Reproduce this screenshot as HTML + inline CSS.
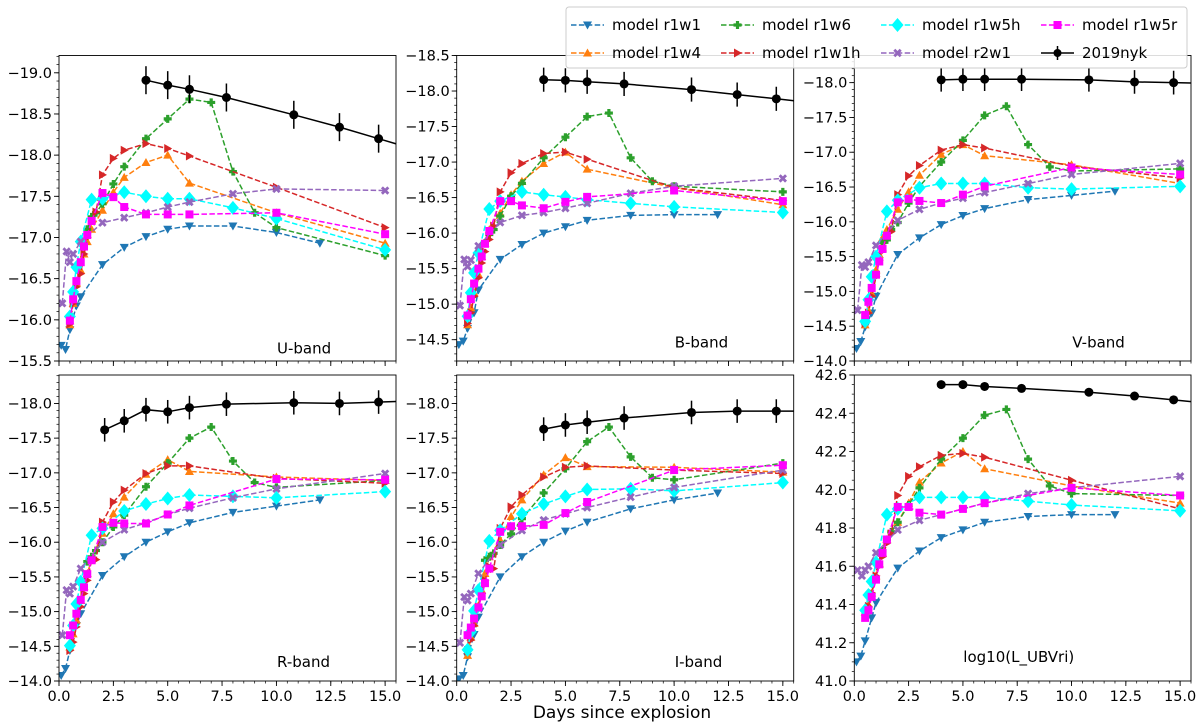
<!DOCTYPE html>
<html><head><meta charset="utf-8"><style>
html,body{margin:0;padding:0;background:#fff;}
svg{display:block;font-family:"DejaVu Sans","Liberation Sans",sans-serif;}
</style></head><body>
<svg id="fig" width="1200" height="722" viewBox="0 0 1200 722" xmlns="http://www.w3.org/2000/svg"></svg>
<script>
// ---- times (days) per model ----
const T_r1w1 = [0.1,0.3,0.5,0.8,1,2,3,4,5,6,8,10,12];
const T_r1w4 = [0.5,0.65,0.8,1,1.15,1.3,1.5,2,2.5,3,4,5,6,10,15];
const T_r1w6 = [1.3,1.5,1.7,2,2.5,3,4,5,6,7,8,9,10,15];
const T_r1w1h = [0.5,0.65,0.8,1,1.15,1.3,1.5,1.7,2,2.5,3,4,5,6,10,15];
const T_r1w5h = [0.5,0.65,0.8,1,1.5,2,3,4,5,6,8,10,15];
const T_r2w1 = [0.15,0.35,0.5,0.65,1,2,3,4,5,6,8,10,15];
const T_r1w5r = [0.5,0.65,0.8,1,1.15,1.3,1.5,2,2.5,3,4,5,6,10,15];
const T_nyk = [4,5,6,7.7,10.8,12.9,14.7];
const T_nyk_R = [2.1,3,4,5,6,7.7,10.8,12.9,14.7];

// ---- U band ----
const U_r1w1 = [-15.69,-15.64,-15.88,-16.17,-16.28,-16.67,-16.88,-17.01,-17.10,-17.14,-17.14,-17.06,-16.93];
const U_r1w4 = [-15.94,-16.2,-16.45,-16.6,-16.8,-16.95,-17.1,-17.33,-17.55,-17.73,-17.91,-18.00,-17.66,-17.30,-16.93];
const U_r1w6 = [-17.1,-17.25,-17.3,-17.41,-17.65,-17.86,-18.20,-18.44,-18.68,-18.64,-17.80,-17.30,-17.12,-16.78];
const U_r1w1h = [-15.95,-16.2,-16.4,-16.56,-16.8,-17.0,-17.2,-17.31,-17.76,-17.96,-18.06,-18.14,-18.08,-17.99,-17.61,-17.12];
const U_r1w5h = [-16.04,-16.34,-16.64,-16.95,-17.46,-17.47,-17.55,-17.50,-17.47,-17.47,-17.36,-17.23,-16.85];
const U_r2w1 = [-16.20,-16.83,-16.70,-16.80,-16.95,-17.18,-17.24,-17.30,-17.37,-17.43,-17.53,-17.59,-17.57];
const U_r1w5r = [-15.99,-16.25,-16.47,-16.70,-16.89,-17.03,-17.20,-17.54,-17.49,-17.37,-17.28,-17.28,-17.28,-17.30,-17.04];
const U_nyk = [-18.91,-18.85,-18.80,-18.70,-18.49,-18.34,-18.20];
// ---- B band ----
const B_r1w1 = [-14.43,-14.48,-14.66,-14.88,-15.20,-15.63,-15.84,-16.00,-16.09,-16.18,-16.25,-16.26,-16.26];
const B_r1w4 = [-14.71,-14.95,-15.16,-15.42,-15.67,-15.86,-16.05,-16.28,-16.54,-16.73,-16.98,-17.14,-16.90,-16.64,-16.40];
const B_r1w6 = [-15.86,-15.98,-16.05,-16.24,-16.52,-16.70,-17.06,-17.35,-17.64,-17.69,-17.06,-16.73,-16.66,-16.58];
const B_r1w1h = [-14.73,-14.88,-15.11,-15.37,-15.58,-15.74,-15.91,-16.10,-16.58,-16.85,-16.98,-17.12,-17.14,-17.04,-16.64,-16.46];
const B_r1w5h = [-14.83,-15.16,-15.44,-15.72,-16.34,-16.45,-16.58,-16.54,-16.51,-16.47,-16.42,-16.37,-16.29];
const B_r2w1 = [-14.98,-15.63,-15.53,-15.62,-15.82,-16.15,-16.25,-16.29,-16.35,-16.42,-16.56,-16.66,-16.77];
const B_r1w5r = [-14.84,-15.07,-15.29,-15.50,-15.67,-15.85,-16.03,-16.45,-16.45,-16.39,-16.35,-16.44,-16.51,-16.60,-16.45];
const B_nyk = [-18.16,-18.15,-18.13,-18.10,-18.02,-17.95,-17.89];
// ---- V band ----
const V_r1w1 = [-14.18,-14.28,-14.49,-14.69,-14.93,-15.53,-15.77,-15.96,-16.09,-16.19,-16.32,-16.38,-16.44];
const V_r1w4 = [-14.52,-14.73,-14.97,-15.31,-15.53,-15.77,-15.89,-16.18,-16.43,-16.67,-16.97,-17.11,-16.95,-16.82,-16.55];
const V_r1w6 = [-15.70,-15.74,-15.89,-15.99,-16.27,-16.51,-16.86,-17.17,-17.53,-17.66,-17.11,-16.79,-16.73,-16.76];
const V_r1w1h = [-14.54,-14.69,-14.93,-15.21,-15.45,-15.58,-15.79,-15.86,-16.39,-16.66,-16.81,-17.03,-17.11,-17.06,-16.80,-16.63];
const V_r1w5h = [-14.57,-14.88,-15.21,-15.50,-16.15,-16.31,-16.49,-16.55,-16.55,-16.55,-16.49,-16.47,-16.51];
const V_r2w1 = [-14.73,-15.38,-15.35,-15.42,-15.66,-16.02,-16.18,-16.27,-16.34,-16.42,-16.55,-16.68,-16.84];
const V_r1w5r = [-14.66,-14.85,-15.05,-15.24,-15.43,-15.61,-15.80,-16.28,-16.33,-16.30,-16.27,-16.39,-16.51,-16.78,-16.68];
const V_nyk = [-18.04,-18.05,-18.05,-18.05,-18.04,-18.01,-18.00];
// ---- R band ----
const R_r1w1 = [-14.08,-14.18,-14.44,-14.80,-14.97,-15.52,-15.79,-16.00,-16.15,-16.28,-16.43,-16.52,-16.61];
const R_r1w4 = [-14.49,-14.68,-14.88,-15.16,-15.36,-15.55,-15.75,-16.13,-16.41,-16.65,-16.98,-17.19,-17.02,-16.94,-16.89];
const R_r1w6 = [-15.72,-15.79,-15.88,-16.00,-16.22,-16.39,-16.80,-17.14,-17.50,-17.66,-17.17,-16.86,-16.79,-16.89];
const R_r1w1h = [-14.44,-14.56,-14.78,-15.07,-15.26,-15.45,-15.74,-15.75,-16.29,-16.58,-16.75,-16.99,-17.10,-17.10,-16.92,-16.85];
const R_r1w5h = [-14.51,-14.80,-15.11,-15.43,-16.10,-16.20,-16.45,-16.55,-16.63,-16.68,-16.66,-16.64,-16.73];
const R_r2w1 = [-14.66,-15.31,-15.26,-15.36,-15.62,-16.00,-16.18,-16.28,-16.40,-16.49,-16.64,-16.77,-16.99];
const R_r1w5r = [-14.66,-14.80,-14.97,-15.17,-15.35,-15.54,-15.74,-16.22,-16.28,-16.27,-16.27,-16.40,-16.53,-16.91,-16.90];
const R_nyk = [-17.62,-17.75,-17.91,-17.88,-17.94,-17.99,-18.01,-18.00,-18.02];
// ---- I band ----
const I_r1w1 = [-14.03,-14.08,-14.35,-14.67,-14.92,-15.50,-15.79,-16.00,-16.16,-16.29,-16.48,-16.61,-16.71];
const I_r1w4 = [-14.37,-14.63,-14.83,-15.09,-15.31,-15.55,-15.79,-16.03,-16.37,-16.61,-16.97,-17.22,-17.09,-17.08,-17.01];
const I_r1w6 = [-15.74,-15.79,-15.84,-15.96,-16.12,-16.34,-16.71,-17.06,-17.45,-17.66,-17.23,-16.93,-16.90,-17.14];
const I_r1w1h = [-14.44,-14.59,-14.80,-15.07,-15.26,-15.45,-15.65,-15.62,-16.20,-16.51,-16.68,-16.94,-17.08,-17.10,-17.04,-16.99];
const I_r1w5h = [-14.45,-14.71,-15.01,-15.31,-16.02,-16.17,-16.41,-16.55,-16.66,-16.76,-16.77,-16.74,-16.86];
const I_r2w1 = [-14.55,-15.21,-15.16,-15.26,-15.55,-15.96,-16.17,-16.32,-16.41,-16.50,-16.65,-16.79,-17.04];
const I_r1w5r = [-14.66,-14.77,-14.90,-15.06,-15.22,-15.41,-15.62,-16.15,-16.23,-16.23,-16.25,-16.42,-16.58,-17.04,-17.11];
const I_nyk = [-17.63,-17.69,-17.73,-17.79,-17.87,-17.89,-17.89];
// ---- log10 L ----
const L_r1w1 = [41.10,41.13,41.21,41.33,41.41,41.59,41.68,41.75,41.79,41.83,41.86,41.87,41.87];
const L_r1w4 = [41.36,41.40,41.46,41.55,41.61,41.67,41.74,41.83,41.93,42.04,42.14,42.20,42.11,42.02,41.93];
const L_r1w6 = [41.68,41.74,41.78,41.83,41.92,42.01,42.16,42.27,42.39,42.42,42.16,42.02,41.98,41.97];
const L_r1w1h = [41.36,41.39,41.46,41.55,41.60,41.65,41.72,41.77,41.97,42.07,42.12,42.18,42.19,42.17,42.05,41.90];
const L_r1w5h = [41.37,41.45,41.52,41.62,41.87,41.90,41.96,41.96,41.96,41.96,41.94,41.92,41.89];
const L_r2w1 = [41.58,41.55,41.58,41.60,41.67,41.79,41.84,41.87,41.90,41.93,41.98,42.01,42.07];
const L_r1w5r = [41.33,41.37,41.44,41.53,41.61,41.67,41.74,41.91,41.91,41.88,41.87,41.90,41.93,42.01,41.97];
const L_nyk = [42.55,42.55,42.54,42.53,42.51,42.49,42.47];

const xTicks = [0,2.5,5,7.5,10,12.5,15];
const xTickLabels = ["0.0","2.5","5.0","7.5","10.0","12.5","15.0"];
const magTicks = [-19,-18.5,-18,-17.5,-17,-16.5,-16,-15.5,-15,-14.5,-14];
const lumTicks = [41.0,41.2,41.4,41.6,41.8,42.0,42.2,42.4,42.6];

const NS = "http://www.w3.org/2000/svg";
const svg = document.getElementById('fig');
function el(tag, attrs, parent){ const e=document.createElementNS(NS,tag); for(const k in attrs) e.setAttribute(k,attrs[k]); (parent||svg).appendChild(e); return e; }

const SER = [
 {key:'r1w1', t:T_r1w1, color:'#1f77b4', m:'tdown', label:'model r1w1'},
 {key:'r1w4', t:T_r1w4, color:'#ff7f0e', m:'tup', label:'model r1w4'},
 {key:'r1w6', t:T_r1w6, color:'#2ca02c', m:'plus', label:'model r1w6'},
 {key:'r1w1h', t:T_r1w1h, color:'#d62728', m:'tright', label:'model r1w1h'},
 {key:'r1w5h', t:T_r1w5h, color:'#00ffff', m:'diamond', label:'model r1w5h'},
 {key:'r2w1', t:T_r2w1, color:'#9467bd', m:'xx', label:'model r2w1'},
 {key:'r1w5r', t:T_r1w5r, color:'#ff00ff', m:'square', label:'model r1w5r'}
];
function marker(g, type, x, y, c){
  let e;
  if(type==='tdown') e=el('polygon',{points:`${x-4.5},${y-3.5} ${x+4.5},${y-3.5} ${x},${y+4.5}`,fill:c},g);
  else if(type==='tup') e=el('polygon',{points:`${x-4.5},${y+3.5} ${x+4.5},${y+3.5} ${x},${y-4.5}`,fill:c},g);
  else if(type==='tright') e=el('polygon',{points:`${x-3.5},${y-4.5} ${x-3.5},${y+4.5} ${x+4.5},${y}`,fill:c},g);
  else if(type==='diamond') e=el('polygon',{points:`${x},${y-7} ${x+6},${y} ${x},${y+7} ${x-6},${y}`,fill:c},g);
  else if(type==='square') e=el('rect',{x:x-4,y:y-4,width:8,height:8,fill:c},g);
  else if(type==='plus') e=el('path',{d:`M${x-1.6},${y-4}h3.2v2.4h2.4v3.2h-2.4v2.4h-3.2v-2.4h-2.4v-3.2h2.4z`,fill:c},g);
  else if(type==='xx') e=el('path',{d:`M${x-4.2},${y-2.2}l2,-2l2.2,2.2l2.2,-2.2l2,2l-2.2,2.2l2.2,2.2l-2,2l-2.2,-2.2l-2.2,2.2l-2,-2l2.2,-2.2z`,fill:c},g);
  else e=el('circle',{cx:x,cy:y,r:4.5,fill:c},g);
  return e;
}

const panels = [
 {id:'U', name:'u-band-panel', x0:59, y0:55.5, w:337, h:305.5, ylo:-15.5, yhi:-19.21, ticks:magTicks.filter(v=>v>=-19&&v<=-15.5), minor:0.1, lab:'U-band', lx:218, ly:292, data:[U_r1w1,U_r1w4,U_r1w6,U_r1w1h,U_r1w5h,U_r2w1,U_r1w5r], nt:T_nyk, ny:U_nyk, err:0.17, xl:false},
 {id:'B', name:'b-band-panel', x0:456.7, y0:55.5, w:337, h:305.5, ylo:-14.2, yhi:-18.5, ticks:magTicks.filter(v=>v>=-18.5&&v<=-14.5), minor:0.1, lab:'B-band', lx:218, ly:286, data:[B_r1w1,B_r1w4,B_r1w6,B_r1w1h,B_r1w5h,B_r2w1,B_r1w5r], nt:T_nyk, ny:B_nyk, err:0.17, xl:false},
 {id:'V', name:'v-band-panel', x0:854.3, y0:55.5, w:336.7, h:305.5, ylo:-14, yhi:-18.39, ticks:magTicks.filter(v=>v>=-18&&v<=-14), minor:0.1, lab:'V-band', lx:218, ly:286, data:[V_r1w1,V_r1w4,V_r1w6,V_r1w1h,V_r1w5h,V_r2w1,V_r1w5r], nt:T_nyk, ny:V_nyk, err:0.17, xl:false},
 {id:'R', name:'r-band-panel', x0:59, y0:375, w:337, h:306, ylo:-14, yhi:-18.41, ticks:magTicks.filter(v=>v>=-18&&v<=-14), minor:0.1, lab:'R-band', lx:218, ly:286, data:[R_r1w1,R_r1w4,R_r1w6,R_r1w1h,R_r1w5h,R_r2w1,R_r1w5r], nt:T_nyk_R, ny:R_nyk, err:0.17, xl:true},
 {id:'I', name:'i-band-panel', x0:456.7, y0:375, w:337, h:306, ylo:-14, yhi:-18.41, ticks:magTicks.filter(v=>v>=-18&&v<=-14), minor:0.1, lab:'I-band', lx:218, ly:286, data:[I_r1w1,I_r1w4,I_r1w6,I_r1w1h,I_r1w5h,I_r2w1,I_r1w5r], nt:T_nyk, ny:I_nyk, err:0.17, xl:true},
 {id:'L', name:'luminosity-panel', x0:854.3, y0:375, w:336.7, h:306, ylo:41.0, yhi:42.6, ticks:lumTicks, minor:0.05, lab:'log10(L_UBVri)', lx:109, ly:281, data:[L_r1w1,L_r1w4,L_r1w6,L_r1w1h,L_r1w5h,L_r2w1,L_r1w5r], nt:T_nyk, ny:L_nyk, err:0, xl:true}
];

panels.forEach(p=>{
  const g = el('g',{});
  
  
  const X = t => p.x0 + t/15.5*p.w;
  const Y = v => p.y0 + (v - p.yhi)/(p.ylo - p.yhi)*p.h;
  const cp = el('clipPath',{id:'clip'+p.id},g);
  el('rect',{x:p.x0,y:p.y0,width:p.w,height:p.h},cp);
  const yaxis = el('g',{},g);
  
  
  const lo=Math.min(p.ylo,p.yhi), hi=Math.max(p.ylo,p.yhi);
  for(let v=Math.ceil(lo/p.minor-1e-6)*p.minor; v<=hi+1e-9; v+=p.minor){
    el('line',{x1:p.x0-2.5,x2:p.x0,y1:Y(v),y2:Y(v),stroke:'#000','stroke-width':0.7},yaxis);
  }
  p.ticks.forEach(v=>{
    el('line',{x1:p.x0-5,x2:p.x0,y1:Y(v),y2:Y(v),stroke:'#000','stroke-width':0.9},yaxis);
    const tx = el('text',{x:p.x0-7,y:Y(v)+5,'text-anchor':'end','font-size':14.5,fill:'#000'},yaxis);
    
    
    tx.textContent = (p.id==='L'? v.toFixed(1) : (v<0?'\u2212':'')+Math.abs(v).toFixed(1));
  });
  const xaxis = el('g',{},g);
  
  
  for(let t=0;t<=15.5+1e-9;t+=0.5){
    el('line',{x1:X(t),x2:X(t),y1:p.y0+p.h,y2:p.y0+p.h+2.5,stroke:'#000','stroke-width':0.7},xaxis);
  }
  xTicks.forEach((t,i)=>{
    el('line',{x1:X(t),x2:X(t),y1:p.y0+p.h,y2:p.y0+p.h+5,stroke:'#000','stroke-width':0.9},xaxis);
    if(p.xl){
      const tx = el('text',{x:X(t),y:p.y0+p.h+20,'text-anchor':'middle','font-size':14.5,fill:'#000'},xaxis);
      
      
      tx.textContent = xTickLabels[i];
    }
  });
  const plot = el('g',{'clip-path':`url(#clip${p.id})`},g);
  SER.forEach((s,si)=>{
    const vals = p.data[si];
    const sg = el('g',{},plot);
    
    
    const pts = s.t.map((t,i)=>X(t).toFixed(1)+','+Y(vals[i]).toFixed(1)).join(' ');
    el('polyline',{points:pts,fill:'none',stroke:s.color,'stroke-width':1.5,'stroke-dasharray':'5.5,2.4'},sg);
    s.t.forEach((t,i)=>{ const m=marker(sg,s.m,X(t),Y(vals[i]),s.color);   });
  });
  const og = el('g',{},plot);
  
  
  const n = p.nt.length;
  const slope = (p.ny[n-1]-p.ny[n-2])/(p.nt[n-1]-p.nt[n-2]);
  const ext = p.ny[n-1] + slope*(15.6-p.nt[n-1]);
  const opts = p.nt.map((t,i)=>X(t).toFixed(1)+','+Y(p.ny[i]).toFixed(1)).join(' ') + ' ' + X(15.6)+','+Y(ext);
  el('polyline',{points:opts,fill:'none',stroke:'#000','stroke-width':1.5},og);
  p.nt.forEach((t,i)=>{
    if(p.err>0) el('line',{x1:X(t),x2:X(t),y1:Y(p.ny[i]-p.err),y2:Y(p.ny[i]+p.err),stroke:'#000','stroke-width':1.5},og);
    const c = el('circle',{cx:X(t),cy:Y(p.ny[i]),r:4.5,fill:'#000'},og);
    
    
  });
  const fr = el('rect',{x:p.x0,y:p.y0,width:p.w,height:p.h,fill:'none',stroke:'#000','stroke-width':0.9},g);
  
  
  const bl = el('text',{x:p.x0+p.lx,y:p.y0+p.ly+6,'font-size':15,fill:'#000'},g);
  
  
  bl.textContent = p.lab;
});

const xt = el('text',{x:622,y:718,'text-anchor':'middle','font-size':17,fill:'#000'});


xt.textContent = 'Days since explosion';

const lg = el('g',{});


el('rect',{x:566,y:7,width:621,height:61,rx:3,fill:'#fff','fill-opacity':0.85,stroke:'#ccc','stroke-width':1},lg);
const legOrder = [0,2,4,6,1,3,5,7];
const colX = [571,721,881,1041];
const rowY = [25,53];
legOrder.forEach((si,k)=>{
  const cx = colX[k%4], cy = rowY[Math.floor(k/4)];
  const e = el('g',{},lg);
  
  
  if(si<7){
    const s=SER[si];
    el('line',{x1:cx,x2:cx+33,y1:cy,y2:cy,stroke:s.color,'stroke-width':1.5,'stroke-dasharray':'5.5,2.4'},e);
    marker(e,s.m,cx+16.5,cy,s.color);
    const t=el('text',{x:cx+41,y:cy+5,'font-size':15,fill:'#000'},e); t.textContent=s.label;
  } else {
    el('line',{x1:cx,x2:cx+33,y1:cy,y2:cy,stroke:'#000','stroke-width':1.5},e);
    el('line',{x1:cx+16.5,x2:cx+16.5,y1:cy-7,y2:cy+7,stroke:'#000','stroke-width':1.5},e);
    el('circle',{cx:cx+16.5,cy:cy,r:4,fill:'#000'},e);
    const t=el('text',{x:cx+41,y:cy+5,'font-size':15,fill:'#000'},e); t.textContent='2019nyk';
  }
});
</script>
</body></html>
